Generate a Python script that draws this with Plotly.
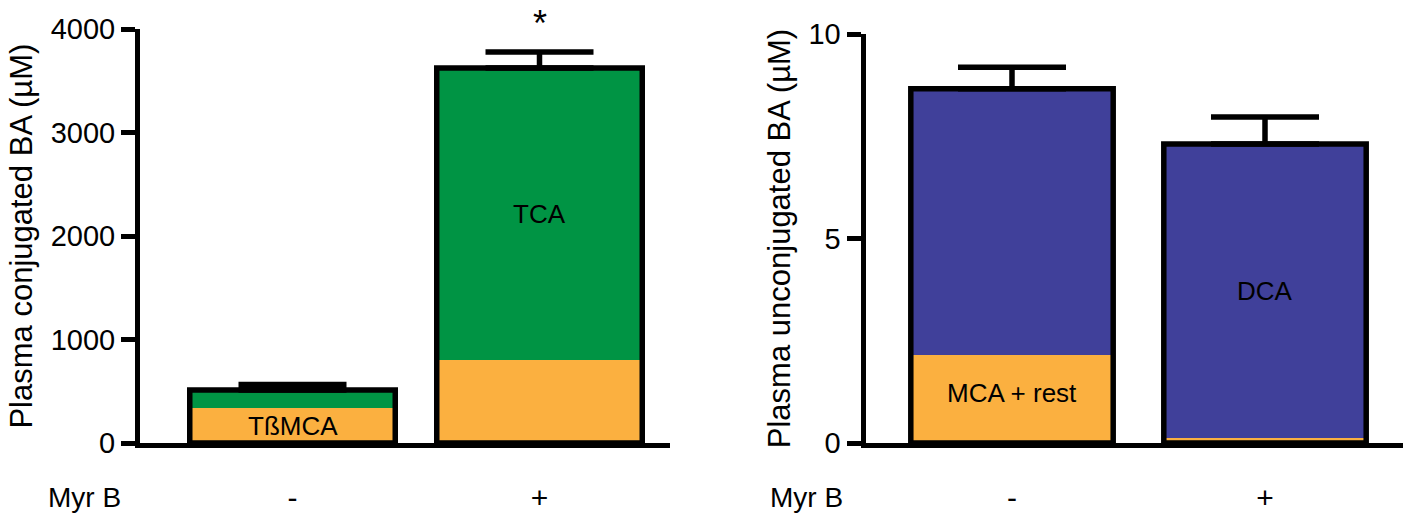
import plotly.graph_objects as go

# ---- data ----
categories = ["-", "+"]

# left panel: plasma conjugated BA (µM)
conj_tbmca = [338, 803]      # orange segment (TßMCA)
conj_tca = [175, 2824]       # green segment (TCA)
conj_err = [53, 154]         # SEM (upper)

# right panel: plasma unconjugated BA (µM)
unconj_mca = [2.15, 0.12]    # orange segment (MCA + rest)
unconj_dca = [6.51, 7.19]    # blue segment (DCA)
unconj_err = [0.53, 0.66]

left_ticks = [0, 1000, 2000, 3000, 4000]
right_ticks = [0, 5, 10]

ORANGE = "#FBB040"
GREEN = "#009444"
BLUE = "#40409A"
FONT = "Liberation Sans, Arial, sans-serif"

W, H = 1403, 519


def px_x(p):
    return p / W


def px_y(p):
    return 1 - p / H


conj_total = [a + b for a, b in zip(conj_tbmca, conj_tca)]
unconj_total = [a + b for a, b in zip(unconj_mca, unconj_dca)]

fig = go.Figure()

LW_BAR = 5.5
left_w = 0.832
right_w = 0.80


def add_panel(xa, ya, bottom, top, bottom_color, top_color, err, width):
    total = [a + b for a, b in zip(bottom, top)]
    fig.add_trace(go.Bar(x=categories, y=bottom, base=[0] * len(bottom), width=[width] * 2,
                         marker=dict(color=bottom_color, line=dict(width=0)),
                         xaxis=xa, yaxis=ya, showlegend=False, hoverinfo="skip"))
    fig.add_trace(go.Bar(x=categories, y=top, base=bottom, width=[width] * 2,
                         marker=dict(color=top_color, line=dict(width=0)),
                         xaxis=xa, yaxis=ya, showlegend=False, hoverinfo="skip"))
    fig.add_trace(go.Bar(x=categories, y=total, base=[0] * len(total), width=[width] * 2,
                         marker=dict(color="rgba(0,0,0,0)", line=dict(width=LW_BAR, color="black")),
                         error_y=dict(type="data", symmetric=False, array=err, arrayminus=[0] * len(err),
                                      color="black", thickness=5.5, width=54),
                         xaxis=xa, yaxis=ya, showlegend=False))


add_panel("x", "y", conj_tbmca, conj_tca, ORANGE, GREEN, conj_err, left_w)
add_panel("x2", "y2", unconj_mca, unconj_dca, ORANGE, BLUE, unconj_err, right_w)

axis_common = dict(showline=True, linecolor="black", linewidth=5, showgrid=False, zeroline=False,
                   ticks="outside", tickcolor="black", ticklen=14, tickwidth=4.5, automargin=False,
                   tickfont=dict(family=FONT, size=29, color="black"))

xaxis_common = dict(showline=True, linecolor="black", linewidth=5, showgrid=False, zeroline=False,
                    ticks="outside", tickcolor="rgba(0,0,0,0)", ticklen=24, automargin=False,
                    tickfont=dict(family=FONT, size=30, color="black"))

y0 = 443
fig.update_layout(
    width=W, height=H, margin=dict(l=0, r=0, t=0, b=0),
    paper_bgcolor="white", plot_bgcolor="white",
    barmode="overlay",
    xaxis=dict(domain=[px_x(140), px_x(670)], anchor="y", type="category",
               range=[-(292.5 - 140) / 247, 1 + (670 - 539.5) / 247], **xaxis_common),
    yaxis=dict(domain=[px_y(y0), px_y(29.3)], anchor="x", range=[0, 4000], tickvals=left_ticks,
               title=dict(text="Plasma conjugated BA (µM)", font=dict(family=FONT, size=31, color="black"),
                          standoff=10),
               **axis_common),
    xaxis2=dict(domain=[px_x(865.5), 1.0], anchor="y2", type="category",
                range=[-(1012 - 865.5) / 253, 1 + (1403 - 1265) / 253], **xaxis_common),
    yaxis2=dict(domain=[px_y(y0), px_y(34)], anchor="x2", range=[0, 10], tickvals=right_ticks,
                title=dict(text="Plasma unconjugated BA (µM)", font=dict(family=FONT, size=31, color="black"),
                           standoff=10),
                **axis_common),
)

lab_font = dict(family=FONT, size=26, color="black")
annotations = [
    dict(x="-", y=conj_tbmca[0] / 2, xref="x", yref="y", text="TßMCA", showarrow=False, font=lab_font),
    dict(x="+", y=conj_tbmca[1] + conj_tca[1] / 2, xref="x", yref="y", text="TCA", showarrow=False, font=lab_font),
    dict(x="-", y=unconj_mca[0] / 2, xref="x2", yref="y2", text="MCA + rest", showarrow=False, font=lab_font,
         yshift=6),
    dict(x="+", y=unconj_mca[1] + unconj_dca[1] / 2, xref="x2", yref="y2", text="DCA", showarrow=False,
         font=lab_font),
    dict(x="+", y=conj_total[1] + conj_err[1], xref="x", yref="y", text="*", showarrow=False,
         font=dict(family=FONT, size=36, color="black"), yanchor="bottom", yshift=6),
    dict(x=px_x(123), y=px_y(497), xref="paper", yref="paper", text="Myr B", showarrow=False,
         xanchor="right", yanchor="middle", font=dict(family=FONT, size=28, color="black")),
    dict(x=px_x(845), y=px_y(497), xref="paper", yref="paper", text="Myr B", showarrow=False,
         xanchor="right", yanchor="middle", font=dict(family=FONT, size=28, color="black")),
]
fig.update_layout(annotations=annotations)

fig.write_html("out.html")
